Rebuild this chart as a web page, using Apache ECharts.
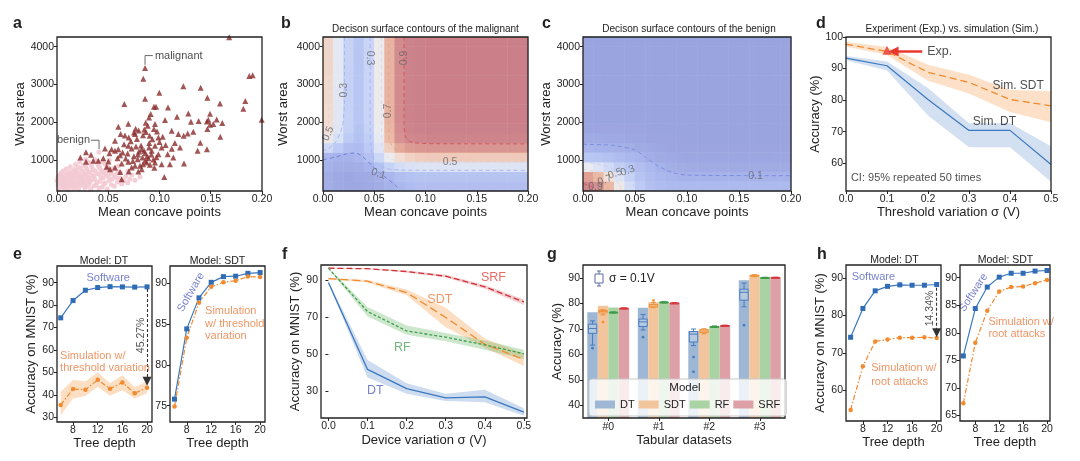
<!DOCTYPE html>
<html>
<head>
<meta charset="utf-8">
<title>Decision tree hardware figure</title>
<script src="https://cdn.jsdelivr.net/npm/echarts@6/dist/echarts.min.js"></script>
<style>
  html, body { margin: 0; background: #fff; }
  #chart { width: 1080px; height: 461px; }
</style>
</head>
<body>
<div id="chart"></div>
<script>
// ---- panel a: mean concave points vs worst area ----
const malignantPts = [
  [0.168, 4247], [0.0859, 3435], [0.0842, 3153], [0.1233, 2950], [0.1402, 2914], [0.1876, 3223], [0.1909, 3241],
  [0.1837, 2561], [0.1818, 2358], [0.1997, 2067], [0.0998, 2782], [0.1467, 2650], [0.0859, 2623], [0.0657, 2482],
  [0.159, 2500], [0.0946, 2411], [0.0966, 2411], [0.1083, 2394], [0.0914, 2217], [0.1281, 2235], [0.1493, 2226],
  [0.0898, 2129], [0.1054, 2058], [0.1171, 2147], [0.1307, 2014], [0.1382, 2032], [0.1463, 2023], [0.1476, 2068],
  [0.1558, 2076], [0.1613, 1979], [0.1493, 1935], [0.1525, 1952], [0.1467, 1820], [0.1593, 1617], [0.0696, 1961],
  [0.0865, 1988], [0.0885, 1908], [0.0956, 1952], [0.0767, 1829], [0.0797, 1785], [0.0751, 1732], [0.0852, 1811],
  [0.0868, 1741], [0.0946, 1820], [0.0976, 1758], [0.0598, 1882], [0.0621, 1688], [0.0663, 1652], [0.0761, 1688],
  [0.0839, 1661], [0.0904, 1644], [0.0989, 1599], [0.1031, 1617], [0.1119, 1776], [0.1184, 1688], [0.1236, 1644],
  [0.1275, 1705], [0.1330, 1749], [0.1200, 1335], [0.1398, 1458], [0.1372, 1246], [0.1463, 1290], [0.1239, 911],
  [0.1047, 558], [0.0566, 1511], [0.0533, 1290], [0.0566, 1246], [0.0598, 1290], [0.0511, 1184], [0.0468, 1308],
  [0.0654, 1423], [0.0696, 1379], [0.0728, 1308], [0.0771, 1361], [0.0800, 1229], [0.0826, 1290], [0.0859, 1184],
  [0.0898, 1335], [0.0924, 1246], [0.0956, 1379], [0.1021, 1335], [0.0989, 1158], [0.1080, 1158], [0.0833, 1070],
  [0.0859, 982], [0.0891, 1052], [0.0875, 937], [0.0787, 1026], [0.0761, 849], [0.0810, 849], [0.0839, 893],
  [0.0907, 876], [0.0956, 937], [0.1021, 893], [0.1135, 1070], [0.1102, 893], [0.0283, 1211], [0.0228, 1070],
  [0.0332, 1140], [0.0354, 982], [0.0403, 982], [0.0283, 955], [0.0452, 1052], [0.0501, 964], [0.0631, 911],
  [0.0670, 1043], [0.0696, 955], [0.0728, 805], [0.0826, 761], [0.0793, 699], [0.0566, 805], [0.0615, 690],
  [0.0631, 496], [0.0485, 823], [0.0517, 761], [0.0615, 1132], [0.0689, 1176], [0.0880, 1100], [0.0920, 1150],
  [0.0940, 1020], [0.0970, 1080], [0.0850, 1250], [0.0790, 1150], [0.0750, 1100], [0.0820, 1390], [0.0900, 1450],
  [0.0930, 1550], [0.1000, 1480], [0.1060, 1400], [0.1120, 1300], [0.1150, 1450], [0.0720, 1500], [0.0700, 1600],
  [0.0780, 1560], [0.0640, 1200], [0.0590, 1050], [0.0740, 980], [0.0950, 800], [0.0700, 700]
];
const benignPts = [
  [0.002, 230], [0.007, 262], [0.011, 215], [0.016, 248], [0.021, 236], [0.027, 270], [0.033, 228], [0.041, 255], [0.049, 240],
  [0.004, 305], [0.009, 290], [0.013, 318], [0.018, 296], [0.023, 330], [0.029, 302], [0.036, 315], [0.044, 290], [0.056, 310],
  [0.001, 352], [0.006, 370], [0.010, 340], [0.015, 362], [0.020, 348], [0.025, 375], [0.031, 355], [0.038, 340], [0.046, 368],
  [0.053, 350], [0.063, 372], [0.003, 410], [0.008, 395], [0.012, 425], [0.017, 402], [0.022, 418], [0.027, 396], [0.032, 430],
  [0.039, 408], [0.047, 395], [0.059, 420], [0.069, 405], [0.000, 462], [0.005, 448], [0.009, 470], [0.014, 455], [0.019, 440],
  [0.024, 465], [0.029, 450], [0.034, 475], [0.042, 445], [0.051, 462], [0.065, 450], [0.076, 470], [0.002, 505], [0.007, 520],
  [0.012, 498], [0.016, 512], [0.021, 530], [0.026, 505], [0.031, 518], [0.037, 495], [0.045, 528], [0.054, 505], [0.061, 520],
  [0.071, 498], [0.001, 560], [0.006, 548], [0.011, 572], [0.015, 555], [0.020, 540], [0.025, 568], [0.030, 552], [0.036, 575],
  [0.043, 548], [0.050, 565], [0.058, 545], [0.067, 570], [0.081, 555], [0.003, 610], [0.008, 598], [0.013, 622], [0.018, 605],
  [0.023, 590], [0.028, 615], [0.034, 600], [0.041, 625], [0.048, 605], [0.056, 592], [0.073, 610], [0.004, 660], [0.010, 645],
  [0.016, 668], [0.021, 652], [0.027, 640], [0.032, 672], [0.039, 650], [0.046, 662], [0.053, 645], [0.062, 668], [0.006, 712],
  [0.013, 698], [0.019, 720], [0.025, 705], [0.031, 690], [0.037, 718], [0.044, 702], [0.051, 715], [0.059, 695], [0.069, 710],
  [0.009, 765], [0.017, 752], [0.023, 778], [0.029, 760], [0.035, 748], [0.042, 770], [0.048, 755], [0.055, 772], [0.013, 825],
  [0.021, 812], [0.028, 835], [0.034, 818], [0.041, 830], [0.050, 815], [0.018, 885], [0.026, 872], [0.033, 895], [0.040, 878],
  [0.047, 890], [0.022, 955], [0.031, 942], [0.039, 962], [0.045, 948], [0.028, 1025], [0.037, 1012], [0.051, 1000], [0.060, 850],
  [0.041, 1210]
];
const areaTicks = [1000, 2000, 3000, 4000];
const concaveTicks = [0, 0.05, 0.1, 0.15, 0.2];

// ---- panels b, c: decision surfaces (percent), rows listed bottom -> top ----
const surfX = [0.005, 0.015, 0.025, 0.035, 0.045, 0.055, 0.065, 0.075, 0.085, 0.095,
  0.105, 0.115, 0.125, 0.135, 0.145, 0.155, 0.165, 0.175, 0.185, 0.195];
const surfY = [312, 566, 821, 1075, 1329, 1583, 1838, 2092, 2346, 2600, 2855, 3109, 3363, 3617, 3872, 4126];
const malignantSurf = [
  [8, 5, 4, 4, 5, 7, 10, 13, 15, 16, 16, 16, 16, 16, 16, 16, 16, 16, 16, 16],
  [8, 5, 4, 5, 6, 9, 12, 16, 18, 19, 19, 19, 19, 19, 19, 19, 19, 19, 19, 19],
  [10, 8, 7, 8, 11, 18, 27, 33, 36, 37, 38, 38, 38, 38, 38, 38, 38, 38, 38, 38],
  [12, 10, 10, 12, 17, 30, 45, 55, 59, 61, 62, 62, 62, 62, 62, 62, 62, 62, 62, 62],
  [30, 22, 16, 15, 22, 38, 60, 74, 80, 82, 83, 83, 83, 83, 83, 83, 83, 83, 83, 83],
  [48, 35, 23, 18, 25, 43, 67, 85, 91, 93, 94, 94, 94, 94, 94, 94, 94, 94, 94, 94],
  [54, 39, 26, 19, 27, 45, 69, 87, 94, 96, 97, 97, 97, 97, 97, 97, 97, 97, 97, 97],
  [56, 40, 26, 20, 28, 46, 70, 88, 95, 97, 98, 98, 98, 98, 98, 98, 98, 98, 98, 98],
  [56, 40, 26, 20, 28, 46, 70, 88, 95, 97, 98, 98, 98, 98, 98, 98, 98, 98, 98, 98],
  [57, 40, 26, 20, 28, 46, 70, 88, 95, 97, 98, 98, 98, 98, 98, 98, 98, 98, 98, 98],
  [57, 40, 26, 20, 28, 46, 70, 88, 95, 97, 98, 98, 98, 98, 98, 98, 98, 98, 98, 98],
  [57, 41, 26, 20, 28, 46, 70, 88, 95, 97, 98, 98, 98, 98, 98, 98, 98, 98, 98, 98],
  [58, 41, 26, 20, 28, 46, 70, 88, 95, 97, 98, 98, 98, 98, 98, 98, 98, 98, 98, 98],
  [58, 41, 27, 20, 28, 46, 70, 88, 95, 97, 98, 98, 98, 98, 98, 98, 98, 98, 98, 98],
  [58, 41, 27, 20, 28, 46, 70, 88, 95, 97, 98, 98, 98, 98, 98, 98, 98, 98, 98, 98],
  [58, 41, 27, 20, 28, 46, 70, 88, 95, 97, 98, 98, 98, 98, 98, 98, 98, 98, 98, 98]
];
const benignSurf = [
  [93, 86, 68, 47, 32, 22, 17, 15, 14, 14, 14, 14, 14, 14, 14, 14, 14, 14, 14, 14],
  [78, 68, 52, 37, 26, 19, 15, 13, 11, 10, 10, 10, 10, 10, 10, 10, 10, 10, 10, 10],
  [44, 38, 31, 25, 20, 16, 13, 10, 8, 7, 6, 6, 6, 6, 6, 6, 6, 6, 6, 6],
  [20, 19, 17, 15, 13, 11, 8, 6, 5, 4, 4, 4, 4, 4, 4, 4, 4, 4, 4, 4],
  [11, 10, 10, 9, 8, 6, 5, 4, 3, 3, 3, 3, 3, 3, 3, 3, 3, 3, 3, 3],
  [6, 6, 5, 5, 4, 4, 3, 3, 3, 2, 2, 2, 2, 2, 2, 2, 2, 2, 2, 2],
  [3, 3, 3, 3, 3, 3, 2, 2, 2, 2, 2, 2, 2, 2, 2, 2, 2, 2, 2, 2],
  [2, 2, 2, 2, 2, 2, 2, 2, 2, 2, 2, 2, 2, 2, 2, 2, 2, 2, 2, 2],
  [2, 2, 2, 2, 2, 2, 2, 2, 2, 2, 2, 2, 2, 2, 2, 2, 2, 2, 2, 2],
  [2, 2, 2, 2, 2, 2, 2, 2, 2, 2, 2, 2, 2, 2, 2, 2, 2, 2, 2, 2],
  [2, 2, 2, 2, 2, 2, 2, 2, 2, 2, 2, 2, 2, 2, 2, 2, 2, 2, 2, 2],
  [2, 2, 2, 2, 2, 2, 2, 2, 2, 2, 2, 2, 2, 2, 2, 2, 2, 2, 2, 2],
  [2, 2, 2, 2, 2, 2, 2, 2, 2, 2, 2, 2, 2, 2, 2, 2, 2, 2, 2, 2],
  [2, 2, 2, 2, 2, 2, 2, 2, 2, 2, 2, 2, 2, 2, 2, 2, 2, 2, 2, 2],
  [2, 2, 2, 2, 2, 2, 2, 2, 2, 2, 2, 2, 2, 2, 2, 2, 2, 2, 2, 2],
  [2, 2, 2, 2, 2, 2, 2, 2, 2, 2, 2, 2, 2, 2, 2, 2, 2, 2, 2, 2]
];
// contour lines
const bC01 = [[0, 1010], [0.012, 1080], [0.025, 1180], [0.032, 1190], [0.040, 1060], [0.048, 850], [0.056, 650], [0.064, 480], [0.071, 330], [0.075, 185]];
const bC03L = [[0.021, 4254], [0.021, 2500], [0.019, 1900], [0.013, 1500], [0.005, 1300], [0, 1250]];
const bC03R = [[0.046, 4254], [0.046, 2000], [0.047, 1300], [0.050, 1000], [0.055, 850], [0.065, 760], [0.08, 735], [0.2, 730]];
const bC05L = [[0.006, 4254], [0.006, 2200], [0.004, 1800], [0, 1550]];
const bC05R = [[0.057, 4254], [0.057, 2000], [0.058, 1350], [0.062, 1100], [0.070, 1000], [0.085, 965], [0.2, 955]];
const bC07 = [[0.064, 4254], [0.064, 2000], [0.065, 1500], [0.070, 1300], [0.080, 1220], [0.10, 1205], [0.2, 1200]];
const bC09 = [[0.079, 4254], [0.079, 2000], [0.080, 1650], [0.084, 1500], [0.092, 1450], [0.11, 1435], [0.2, 1430]];
const cC01 = [[0, 1420], [0.03, 1390], [0.05, 1270], [0.06, 1080], [0.072, 850], [0.085, 680], [0.1, 605], [0.2, 590]];
const cC03 = [[0, 960], [0.02, 860], [0.035, 700], [0.044, 520], [0.048, 350], [0.05, 185]];
const cC05 = [[0, 760], [0.015, 690], [0.027, 560], [0.034, 400], [0.037, 185]];
const cC07 = [[0, 590], [0.012, 520], [0.02, 400], [0.024, 250], [0.025, 185]];
const cC09 = [[0, 380], [0.006, 330], [0.011, 250], [0.013, 185]];

// ---- panel d: experiment vs simulation ----
const dSigma = [0, 0.1, 0.2, 0.3, 0.4, 0.5];
const dSDT = [97.7, 95.4, 88.8, 85.6, 80.2, 78.2];
const dSDTLo = [97.0, 94.3, 86.1, 82.1, 76.2, 73.0];
const dSDTHi = [98.4, 96.8, 91.2, 88.0, 83.2, 82.8];
const dDT = [93.3, 90.9, 80.2, 70.4, 70.4, 59.6];
const dDTLo = [92.6, 89.4, 75.1, 65.1, 65.1, 54.1];
const dDTHi = [94.0, 92.2, 83.8, 72.7, 72.7, 65.4];
const dExp = [0.1, 95.8];
const sigmaTicks = [0, 0.1, 0.2, 0.3, 0.4, 0.5];

// ---- panel e: threshold variation, MNIST ----
const depth = [6, 8, 10, 12, 14, 16, 18, 20];
const depthTicks = [8, 12, 16, 20];
const eDTsw = [74.3, 82.0, 86.6, 87.8, 88.2, 88.1, 88.0, 88.1];
const eDTsim = [35.5, 42.6, 42.3, 46.7, 42.7, 45.5, 40.7, 43.2];
const eDTsimLo = [30.9, 38.4, 39.5, 43.6, 39.6, 42.0, 38.4, 40.7];
const eDTsimHi = [41.4, 46.6, 46.0, 49.9, 45.2, 48.7, 43.4, 46.0];
const eSDTsw = [75.8, 84.4, 88.2, 90.1, 90.8, 90.85, 91.2, 91.3];
const eSDTsim = [74.9, 83.3, 87.6, 89.55, 90.1, 90.3, 90.8, 90.75];

// ---- panel f: device variation ----
const fSigma = [0, 0.1, 0.2, 0.3, 0.4, 0.5];
const fDT = [88.6, 41.9, 31.6, 26.6, 27.1, 18.9];
const fDTLo = [88.0, 37.5, 28.8, 25.0, 24.3, 17.0];
const fDTHi = [89.2, 47.0, 34.5, 28.8, 31.0, 21.0];
const fSDT = [90.7, 89.3, 83.2, 69.8, 55.4, 47.2];
const fSDTLo = [90.3, 88.6, 81.8, 64.5, 53.5, 43.8];
const fSDTHi = [91.1, 90.0, 84.8, 75.0, 58.5, 50.5];
const fRF = [96.3, 73.0, 62.6, 59.2, 55.1, 50.3];
const fRFLo = [96.0, 70.3, 60.5, 57.0, 52.5, 47.5];
const fRFHi = [96.6, 75.5, 65.5, 61.5, 57.5, 52.5];
const fSRF = [96.3, 96.0, 94.5, 92.0, 86.3, 78.2];
const fSRFLo = [96.1, 95.7, 94.0, 91.3, 85.3, 76.5];
const fSRFHi = [96.5, 96.3, 95.0, 92.7, 87.3, 79.5];

// ---- panel g: tabular datasets ----
const gCats = ['#0', '#1', '#2', '#3'];
const gModels = ['DT', 'SDT', 'RF', 'SRF'];
const gBar = [
  [76.6, 78.3, 69.2, 89.1],
  [79.1, 80.5, 70.0, 91.2],
  [78.4, 80.6, 71.1, 90.4],
  [78.2, 80.2, 71.4, 90.3]
];
// [whisker low, q1, median, q3, whisker high]
const gBox = [
  [[63.7, 68.3, 70.2, 71.9, 73.2], [69.6, 71.0, 72.8, 73.9, 75.7], [63.5, 64.9, 68.0, 69.0, 70.0], [78.7, 81.3, 84.4, 85.6, 88.0]],
  [[75.5, 76.3, 76.9, 77.3, 77.6], [78.4, 78.6, 79.0, 79.6, 80.4], [68.1, 68.6, 69.2, 69.7, 70.1], [90.5, 90.7, 90.9, 91.1, 91.3]],
  [[76.3, 76.4, 76.5, 76.6, 76.7], [80.2, 80.4, 80.5, 80.6, 80.7], [70.6, 70.8, 70.9, 71.0, 71.2], [89.9, 90.0, 90.1, 90.2, 90.3]],
  [[77.9, 78.0, 78.1, 78.2, 78.3], [80.0, 80.1, 80.2, 80.2, 80.3], [71.2, 71.3, 71.35, 71.4, 71.5], [90.1, 90.15, 90.2, 90.25, 90.3]]
];
const gOutliers = [
  [[62.5], [66.8], [59.0, 53.2], [71.5]],
  [[72.7], [81.2], [], []],
  [[], [], [], []],
  [[], [], [], []]
];

// ---- panel h: root attacks ----
const hDTsw = [74.2, 81.9, 86.6, 87.8, 88.2, 88.1, 88.1, 88.3];
const hDTsim = [54.8, 66.5, 73.1, 73.6, 74.1, 74.1, 74.2, 74.0];
const hSDTsw = [75.8, 84.4, 88.3, 90.1, 90.8, 90.8, 91.2, 91.3];
const hSDTsim = [67.2, 78.2, 84.0, 87.5, 88.3, 88.4, 89.0, 89.6];

// ------------------------------------------------------------------
const FF = '"Liberation Sans", Arial, Helvetica, sans-serif';
const INK = '#222';
const BLUE = '#3b78bf';
const ORANGE = '#f28a30';
const TXT_BLUE = '#5562c0';
const TXT_ORANGE = '#ea7a3f';
const surfColors = ['#97a0dc', '#a8b4eb', '#bccaf5', '#d5def6', '#ebecf2', '#f3dcd0',
  '#ecbca8', '#df9f94', '#d28a8e', '#c97e88'];
const barColors = ['#9db7d5', '#f3c59c', '#a9d3a3', '#dca0a6'];
const boxColors = ['#4a7cc0', '#f0913a', '#3c9a48', '#d4363c'];

const chart = echarts.init(document.getElementById('chart'));

const grids = [
  { left: 57, top: 37, width: 205, height: 154 },   // a
  { left: 323, top: 37, width: 205, height: 154 },  // b
  { left: 583, top: 37, width: 208, height: 154 },  // c
  { left: 846, top: 37, width: 205, height: 154 },  // d
  { left: 57, top: 266, width: 95, height: 156 },   // e DT
  { left: 170, top: 266, width: 95, height: 156 },  // e SDT
  { left: 321, top: 265, width: 206, height: 153 }, // f
  { left: 583, top: 265, width: 202, height: 153 }, // g
  { left: 846, top: 265, width: 95, height: 156 },  // h DT
  { left: 960, top: 265, width: 90, height: 156 }   // h SDT
].map((g) => Object.assign(g, { show: true, z: 10, borderColor: INK, borderWidth: 1.3, backgroundColor: 'transparent' }));

function vAxis(gi, min, max, ticks, digits, name, gap) {
  return {
    type: 'value', gridIndex: gi, min: min, max: max,
    name: name, nameLocation: 'middle', nameGap: gap,
    nameTextStyle: { fontFamily: FF, fontSize: 13, color: INK },
    axisLine: { show: false }, splitLine: { show: false },
    axisTick: { show: true, length: 3, customValues: ticks, lineStyle: { color: INK } },
    axisLabel: {
      customValues: ticks, margin: 3, fontFamily: FF, fontSize: 10.5, color: INK,
      formatter: (v) => (digits ? Number(v).toFixed(digits) : String(v))
    }
  };
}
function heatAxis(gi, cats) {
  return { type: 'category', gridIndex: gi, data: cats, show: false, boundaryGap: true };
}

const xAxes = [
  vAxis(0, 0, 0.2, concaveTicks, 2, 'Mean concave points', 14),
  vAxis(1, 0, 0.2, concaveTicks, 2, 'Mean concave points', 14),
  vAxis(2, 0, 0.2, concaveTicks, 2, 'Mean concave points', 14),
  vAxis(3, 0, 0.5, sigmaTicks, 1, 'Threshold variation σ (V)', 14),
  vAxis(4, 5.4, 20.8, depthTicks, 0, 'Tree depth', 12),
  vAxis(5, 5.26, 20.8, depthTicks, 0, 'Tree depth', 12),
  vAxis(6, -0.019, 0.508, sigmaTicks, 1, 'Device variation σ (V)', 16),
  {
    type: 'category', gridIndex: 7, data: gCats, name: 'Tabular datasets', nameLocation: 'middle', nameGap: 16,
    nameTextStyle: { fontFamily: FF, fontSize: 13, color: INK },
    axisLine: { show: false }, axisTick: { show: true, alignWithLabel: true, length: 3, lineStyle: { color: INK } },
    axisLabel: { margin: 4, fontFamily: FF, fontSize: 10.5, color: INK }
  },
  vAxis(8, 5.25, 20.7, depthTicks, 0, 'Tree depth', 12),
  vAxis(9, 5.44, 20.5, depthTicks, 0, 'Tree depth', 12),
  heatAxis(1, surfX),
  heatAxis(2, surfX)
];
const yAxes = [
  vAxis(0, 185, 4254, areaTicks, 0, 'Worst area', 30),
  vAxis(1, 185, 4254, areaTicks, 0, 'Worst area', 33),
  vAxis(2, 185, 4254, areaTicks, 0, 'Worst area', 30),
  vAxis(3, 51.2, 100, [60, 70, 80, 90, 100], 0, 'Accuracy (%)', 19),
  vAxis(4, 27.9, 97.4, [30, 40, 50, 60, 70, 80, 90], 0, 'Accuracy on MNIST (%)', 17),
  vAxis(5, 73.0, 92.1, [75, 80, 85, 90], 0, '', 0),
  vAxis(6, 15.8, 98, [30, 50, 70, 90], 0, 'Accuracy on MNIST (%)', 18),
  vAxis(7, 35.1, 95.1, [40, 50, 60, 70, 80, 90], 0, 'Accuracy (%)', 18),
  vAxis(8, 51.85, 93.5, [60, 70, 80, 90], 0, 'Accuracy on MNIST (%)', 19),
  vAxis(9, 64.0, 92.3, [65, 70, 75, 80, 85, 90], 0, '', 0),
  heatAxis(1, surfY),
  heatAxis(2, surfY)
];

function pairs(xs, ys) { return xs.map((x, i) => [x, ys[i]]); }
function line(gi, xs, ys, opt) {
  return Object.assign({
    type: 'line', xAxisIndex: gi, yAxisIndex: gi, data: pairs(xs, ys),
    symbol: 'none', silent: true, z: 4
  }, opt);
}
function band(gi, xs, lo, hi, color) {
  return {
    type: 'custom', xAxisIndex: gi, yAxisIndex: gi, silent: true, z: 2,
    data: [[xs[0], lo[0]]],
    renderItem: (p, api) => {
      const top = xs.map((x, i) => api.coord([x, hi[i]]));
      const bot = xs.map((x, i) => api.coord([x, lo[i]])).reverse();
      return { type: 'polygon', shape: { points: top.concat(bot) }, style: { fill: color } };
    }
  };
}
function contour(gi, pts, color) {
  return {
    type: 'line', xAxisIndex: gi, yAxisIndex: gi, data: pts, symbol: 'none', silent: true, z: 3,
    smooth: 0.2, lineStyle: { color: color, width: 1, type: [4, 3] }
  };
}
function notes(gi, list) {
  return {
    type: 'scatter', xAxisIndex: gi, yAxisIndex: gi, symbolSize: 1, silent: true, z: 8,
    itemStyle: { color: 'rgba(0,0,0,0)' },
    data: list.map((n) => ({
      value: [n.x, n.y],
      label: {
        show: true, position: 'inside', formatter: n.t, color: n.c || INK, fontSize: n.s || 11,
        fontFamily: FF, rotate: n.r || 0, align: n.a || 'center', verticalAlign: 'middle'
      }
    }))
  };
}
function arrow(gi, from, to, color, width, dash, size) {
  return {
    type: 'line', xAxisIndex: gi, yAxisIndex: gi, data: [], silent: true, z: 6,
    markLine: {
      silent: true, animation: false, symbol: ['none', 'triangle'], symbolSize: size,
      label: { show: false }, lineStyle: { color: color, width: width, type: dash },
      data: [[{ coord: from }, { coord: to }]]
    }
  };
}
function swLine(gi, ys) {
  return line(gi, depth, ys, {
    symbol: 'rect', symbolSize: 5, lineStyle: { color: BLUE, width: 1.2 }, itemStyle: { color: '#2f6cb5' }
  });
}
function simLine(gi, ys) {
  return line(gi, depth, ys, {
    symbol: 'circle', symbolSize: 4.5, lineStyle: { color: ORANGE, width: 1.2, type: [5, 2, 1.5, 2] },
    itemStyle: { color: ORANGE }
  });
}
function heat(gi, grid) {
  return {
    type: 'heatmap', xAxisIndex: 9 + gi, yAxisIndex: 9 + gi, silent: true, z: 1,
    data: grid.flatMap((row, j) => row.map((v, i) => [i, j, v]))
  };
}
function boxSeries(k) {
  return {
    type: 'custom', xAxisIndex: 7, yAxisIndex: 7, silent: true, z: 5,
    data: gBox[k].map((s, i) => [i].concat(s)),
    renderItem: (p, api) => {
      const i = p.dataIndex;
      const bw = api.size([1, 0])[0] * 0.83 / 4;
      const cx = api.coord([i, api.value(3)])[0] + (k - 1.5) * bw;
      const y = (v) => api.coord([i, v])[1];
      const half = bw * 0.4;
      const col = boxColors[k];
      const st = { stroke: col, lineWidth: 1, fill: null };
      const ch = [
        { type: 'line', shape: { x1: cx, y1: y(api.value(1)), x2: cx, y2: y(api.value(2)) }, style: st },
        { type: 'line', shape: { x1: cx, y1: y(api.value(4)), x2: cx, y2: y(api.value(5)) }, style: st },
        { type: 'line', shape: { x1: cx - half * 0.6, y1: y(api.value(1)), x2: cx + half * 0.6, y2: y(api.value(1)) }, style: st },
        { type: 'line', shape: { x1: cx - half * 0.6, y1: y(api.value(5)), x2: cx + half * 0.6, y2: y(api.value(5)) }, style: st },
        {
          type: 'rect', shape: { x: cx - half, y: y(api.value(4)), width: 2 * half, height: Math.max(1, y(api.value(2)) - y(api.value(4))) },
          style: { stroke: col, lineWidth: 1, fill: 'rgba(255,255,255,0.25)' }
        },
        { type: 'line', shape: { x1: cx - half, y1: y(api.value(3)), x2: cx + half, y2: y(api.value(3)) }, style: st }
      ];
      gOutliers[k][i].forEach((v) => ch.push({ type: 'circle', shape: { cx: cx, cy: y(v), r: 1.4 }, style: { fill: col } }));
      return { type: 'group', children: ch };
    }
  };
}

const series = [];
// a
series.push({ type: 'scatter', xAxisIndex: 0, yAxisIndex: 0, data: benignPts, symbol: 'circle', symbolSize: 5, silent: true, z: 3,
  itemStyle: { color: '#f3cad3', opacity: 0.9 } });
series.push({ type: 'scatter', xAxisIndex: 0, yAxisIndex: 0, data: malignantPts, symbol: 'triangle', symbolSize: 6, silent: true, z: 4,
  itemStyle: { color: '#8a2b2b' } });
series.push(line(0, [0.0859, 0.0859, 0.0935], [3520, 3763, 3763], { lineStyle: { color: '#444', width: 0.8 } }));
series.push(line(0, [0.0330, 0.041, 0.041], [1526, 1526, 1290], { lineStyle: { color: '#444', width: 0.8 } }));
series.push(notes(0, [
  { t: 'malignant', x: 0.0955, y: 3763, a: 'left', s: 11 },
  { t: 'benign', x: 0.0322, y: 1526, a: 'right', s: 11 }
]));
// b
series.push(heat(1, malignantSurf));
series.push(contour(1, bC01, '#6f80d8'));
series.push(contour(1, bC03L, '#a5b8f0'));
series.push(contour(1, bC03R, '#a5b8f0'));
series.push(contour(1, bC05L, '#d8d8e2'));
series.push(contour(1, bC05R, '#dcdce4'));
series.push(contour(1, bC07, '#e6a58c'));
series.push(contour(1, bC09, '#d4555a'));
series.push(notes(1, [
  { t: '0.3', x: 0.046, y: 3700, r: -90, c: '#666', s: 10.5 },
  { t: '0.9', x: 0.079, y: 3700, r: 90, c: '#666', s: 10.5 },
  { t: '0.3', x: 0.021, y: 2850, r: 90, c: '#666', s: 10.5 },
  { t: '0.7', x: 0.064, y: 2300, r: 90, c: '#666', s: 10.5 },
  { t: '0.5', x: 0.005, y: 1700, r: 65, c: '#666', s: 10.5 },
  { t: '0.5', x: 0.124, y: 956, c: '#666', s: 10.5 },
  { t: '0.1', x: 0.054, y: 640, r: -20, c: '#666', s: 10.5 }
]));
// c
series.push(heat(2, benignSurf));
series.push(contour(2, cC01, '#7a8ee0'));
series.push(contour(2, cC03, '#c8d2f2'));
series.push(contour(2, cC05, '#e2d6d2'));
series.push(contour(2, cC07, '#e8a88f'));
series.push(contour(2, cC09, '#d4555a'));
series.push(notes(2, [
  { t: '0.1', x: 0.166, y: 590, c: '#666', s: 10.5 },
  { t: '0.3', x: 0.043, y: 720, r: 20, c: '#666', s: 10.5 },
  { t: '0.5', x: 0.031, y: 640, r: 20, c: '#666', s: 10.5 },
  { t: '0.7', x: 0.021, y: 470, r: 20, c: '#666', s: 10.5 },
  { t: '0.9', x: 0.012, y: 290, c: '#666', s: 10.5 }
]));
// d
series.push(band(3, dSigma, dSDTLo, dSDTHi, 'rgba(245,160,80,0.32)'));
series.push(band(3, dSigma, dDTLo, dDTHi, 'rgba(80,130,200,0.25)'));
series.push(line(3, dSigma, dSDT, { lineStyle: { color: ORANGE, width: 1.3, type: [7, 4] } }));
series.push(line(3, dSigma, dDT, { lineStyle: { color: BLUE, width: 1.2 } }));
series.push({ type: 'scatter', xAxisIndex: 3, yAxisIndex: 3, data: [dExp], symbol: 'triangle', symbolSize: 9, silent: true, z: 6,
  itemStyle: { color: '#e8382e' } });
series.push(arrow(3, [0.186, 95.4], [0.116, 95.4], '#e8382e', 2.5, 'solid', 10));
series.push(notes(3, [
  { t: 'Exp.', x: 0.198, y: 95.5, a: 'left', s: 12.5 },
  { t: 'Sim. SDT', x: 0.42, y: 84.6, s: 12 },
  { t: 'Sim. DT', x: 0.362, y: 73.3, s: 12 },
  { t: 'CI: 95% repeated 50 times', x: 0.012, y: 55.2, a: 'left', s: 11 }
]));
// e
series.push(band(4, depth, eDTsimLo, eDTsimHi, 'rgba(245,160,80,0.35)'));
series.push(swLine(4, eDTsw));
series.push(simLine(4, eDTsim));
series.push(arrow(4, [20, 87.2], [20, 46.0], '#333', 1.1, [3, 2], 9));
series.push(notes(4, [
  { t: 'Software', x: 13.7, y: 92, c: TXT_BLUE },
  { t: 'Simulation w/', x: 5.9, y: 57.3, a: 'left', c: TXT_ORANGE },
  { t: 'threshold variation', x: 5.9, y: 52.1, a: 'left', c: TXT_ORANGE },
  { t: '45.27%', x: 19.0, y: 66.5, r: 90, s: 10.5 }
]));
series.push(swLine(5, eSDTsw));
series.push(simLine(5, eSDTsim));
series.push(notes(5, [
  { t: 'Software', x: 8.7, y: 88.9, r: 60, c: TXT_BLUE },
  { t: 'Simulation', x: 11, y: 86.6, a: 'left', c: TXT_ORANGE },
  { t: 'w/ threshold', x: 11, y: 85.0, a: 'left', c: TXT_ORANGE },
  { t: 'variation', x: 11, y: 83.5, a: 'left', c: TXT_ORANGE }
]));
// f
series.push(band(6, fSigma, fSRFLo, fSRFHi, 'rgba(210,60,60,0.25)'));
series.push(band(6, fSigma, fSDTLo, fSDTHi, 'rgba(245,160,80,0.35)'));
series.push(band(6, fSigma, fRFLo, fRFHi, 'rgba(90,175,90,0.3)'));
series.push(band(6, fSigma, fDTLo, fDTHi, 'rgba(80,130,200,0.28)'));
series.push(line(6, fSigma, fSRF, { lineStyle: { color: '#d0323a', width: 1.3, type: [6, 3] } }));
series.push(line(6, fSigma, fSDT, { lineStyle: { color: ORANGE, width: 1.3, type: [8, 4] } }));
series.push(line(6, fSigma, fRF, { lineStyle: { color: '#3f9f4c', width: 1.3, type: [3, 2] } }));
series.push(line(6, fSigma, fDT, { lineStyle: { color: BLUE, width: 1.3 } }));
series.push(notes(6, [
  { t: 'SRF', x: 0.422, y: 91.1, c: '#e0463f', s: 12.5 },
  { t: 'SDT', x: 0.285, y: 79.6, c: '#ef7c3f', s: 12.5 },
  { t: 'RF', x: 0.189, y: 53.7, c: '#4da85a', s: 12.5 },
  { t: 'DT', x: 0.12, y: 30.7, c: TXT_BLUE, s: 12.5 }
]));
// g
gModels.forEach((m, k) => {
  series.push({
    type: 'bar', name: m, xAxisIndex: 7, yAxisIndex: 7, data: gBar[k], silent: true, z: 2,
    barGap: '0%', barCategoryGap: '17%', itemStyle: { color: barColors[k] }
  });
});
gModels.forEach((m, k) => series.push(boxSeries(k)));
// h
series.push(swLine(8, hDTsw));
series.push(simLine(8, hDTsim));
series.push(arrow(8, [20, 87.4], [20, 75.4], '#333', 1.1, [3, 2], 9));
series.push(notes(8, [
  { t: 'Software', x: 9.7, y: 90.3, c: TXT_BLUE },
  { t: 'Simulation w/', x: 9.35, y: 66, a: 'left', c: TXT_ORANGE },
  { t: 'root attacks', x: 9.35, y: 62.3, a: 'left', c: TXT_ORANGE },
  { t: '14.34%', x: 19.0, y: 81.9, r: 90, s: 10.5 }
]));
series.push(swLine(9, hSDTsw));
series.push(simLine(9, hSDTsim));
series.push(notes(9, [
  { t: 'Software', x: 7.7, y: 87.3, r: 57, c: TXT_BLUE },
  { t: 'Simulation w/', x: 10.2, y: 82, a: 'left', c: TXT_ORANGE },
  { t: 'root attacks', x: 10.2, y: 79.7, a: 'left', c: TXT_ORANGE }
]));

const heatSeries = series.map((s, i) => (s.type === 'heatmap' ? i : -1)).filter((i) => i >= 0);

function txt(text, x, y, size, weight, align) {
  return {
    type: 'text', x: x, y: y, z: 100, silent: true,
    style: { text: text, fontFamily: FF, fontSize: size, fontWeight: weight || 'normal', fill: INK, align: align || 'center', verticalAlign: 'middle' }
  };
}
const sigmaIcon = {
  type: 'group', z: 100, silent: true,
  children: [
    { type: 'line', shape: { x1: 599, y1: 271, x2: 599, y2: 274 }, style: { stroke: '#5b6aa6', lineWidth: 1 } },
    { type: 'line', shape: { x1: 597, y1: 271, x2: 601, y2: 271 }, style: { stroke: '#5b6aa6', lineWidth: 1 } },
    { type: 'rect', shape: { x: 595, y: 274, width: 8, height: 9 }, style: { stroke: '#5b6aa6', fill: '#fff', lineWidth: 1 } },
    { type: 'line', shape: { x1: 599, y1: 283, x2: 599, y2: 286 }, style: { stroke: '#5b6aa6', lineWidth: 1 } },
    { type: 'line', shape: { x1: 597, y1: 286, x2: 601, y2: 286 }, style: { stroke: '#5b6aa6', lineWidth: 1 } }
  ]
};

chart.setOption({
  animation: false,
  textStyle: { fontFamily: FF },
  grid: grids,
  xAxis: xAxes,
  yAxis: yAxes,
  visualMap: [{
    type: 'continuous', min: 0, max: 100, show: false, seriesIndex: heatSeries,
    inRange: { color: surfColors }
  }],
  legend: {
    data: gModels, left: 589, top: 379, orient: 'horizontal', icon: 'rect',
    itemWidth: 20, itemHeight: 8, itemGap: 4, padding: [20, 6, 6, 6],
    backgroundColor: 'rgba(255,255,255,0.8)', borderColor: '#c8c8c8', borderWidth: 1, borderRadius: 3,
    textStyle: { fontFamily: FF, fontSize: 11, color: INK }, selectedMode: false, z: 20
  },
  graphic: [
    txt('a', 13, 24, 16, 'bold', 'left'),
    txt('b', 281, 24, 16, 'bold', 'left'),
    txt('c', 542, 24, 16, 'bold', 'left'),
    txt('d', 816, 24, 16, 'bold', 'left'),
    txt('e', 13, 255, 16, 'bold', 'left'),
    txt('f', 282, 255, 16, 'bold', 'left'),
    txt('g', 547, 255, 16, 'bold', 'left'),
    txt('h', 817, 255, 16, 'bold', 'left'),
    txt('Decison surface contours of the malignant', 425.5, 29, 10),
    txt('Decison surface contours of the benign', 689, 29, 10),
    txt('Experiment (Exp.) vs. simulation (Sim.)', 952, 29, 10),
    txt('Model: DT', 104, 261, 10.5),
    txt('Model: SDT', 217.5, 261, 10.5),
    txt('Model: DT', 894.5, 260, 10.5),
    txt('Model: SDT', 1005.5, 260, 10.5),
    sigmaIcon,
    txt('σ = 0.1V', 609, 278.5, 12, 'normal', 'left'),
    txt('Model', 685, 388, 11.5)
  ],
  series: series
});
</script>
</body>
</html>
